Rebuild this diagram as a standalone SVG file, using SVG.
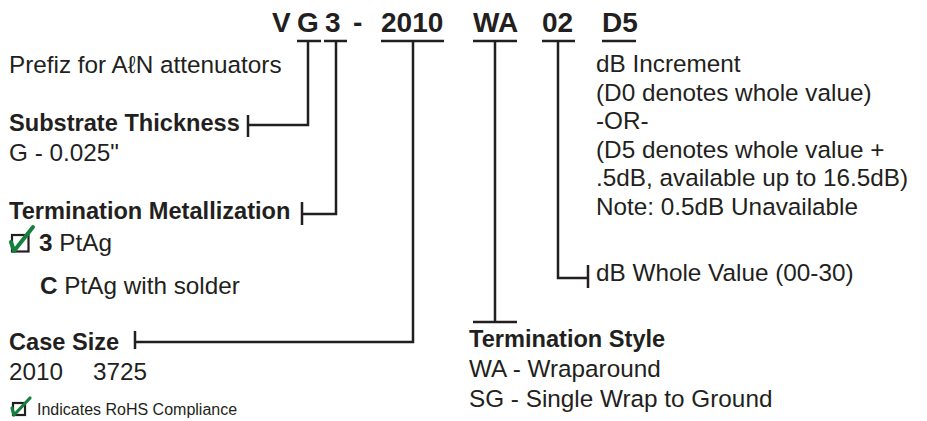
<svg xmlns="http://www.w3.org/2000/svg" width="927" height="421" viewBox="0 0 927 421">
  <style>
    text { font-family: "Liberation Sans", Arial, sans-serif; fill: #231f20; }
    .title { font-size: 28px; font-weight: bold; }
    .hd { font-size: 23.6px; font-weight: bold; }
    .tx { font-size: 24.3px; }
    .b { font-weight: bold; }
    .sm { font-size: 16px; }
    .ln { fill: none; stroke: #231f20; stroke-width: 2.5; }
    .box { fill: none; stroke: #231f20; stroke-width: 2.2; }
    .chk { fill: none; stroke: #15803d; stroke-linecap: round; stroke-linejoin: round; }
  </style>

  <g id="code">
    <text class="title" x="272" y="32">V</text>
    <text class="title" x="297" y="32">G</text>
    <text class="title" x="325" y="32">3</text>
    <text class="title" x="353" y="32">-</text>
    <text class="title" x="381" y="32">2010</text>
    <text class="title" x="473" y="32">WA</text>
    <text class="title" x="542" y="32">02</text>
    <text class="title" x="602" y="32">D5</text>
  </g>

  <g id="connectors">
    <path class="ln" d="M297,41 H321 M324,41 H347 M381,41 H444 M473,41 H517 M542,41 H575 M602,41 H636"/>
    <path class="ln" d="M308,41 V125 H248 M248,115 V137"/>
    <path class="ln" d="M336,41 V214 H302 M302,202 V225"/>
    <path class="ln" d="M413,41 V342 H135 M135,331 V349"/>
    <path class="ln" d="M558,41 V278 H588 M588,265 V288"/>
    <path class="ln" d="M495,41 V322 M473,322 H517"/>
  </g>

  <g id="prefix">
    <text class="tx" x="9" y="73">Prefiz for AℓN attenuators</text>
  </g>

  <g id="substrate">
    <text class="hd" x="9" y="131">Substrate Thickness</text>
    <text class="tx" x="9" y="161">G - 0.025"</text>
  </g>

  <g id="metallization">
    <text class="hd" x="9" y="219">Termination Metallization</text>
    <rect class="box" x="12" y="235" width="16.5" height="16.5"/>
    <path class="chk" stroke-width="4" d="M11,242 L14,251 L33,227"/>
    <text class="tx" x="39" y="251"><tspan class="b">3</tspan> PtAg</text>
    <text class="tx" x="40" y="294"><tspan class="b">C</tspan> PtAg with solder</text>
  </g>

  <g id="casesize">
    <text class="hd" x="9" y="350">Case Size</text>
    <text class="tx" x="9" y="380">2010</text>
    <text class="tx" x="93" y="380">3725</text>
  </g>

  <g id="rohs">
    <rect class="box" x="13" y="403" width="12" height="12" stroke-width="1.8"/>
    <path class="chk" stroke-width="3.2" d="M12,408 L14,415 L30,398"/>
    <text class="sm" x="37" y="415">Indicates RoHS Compliance</text>
  </g>

  <g id="increment">
    <text class="tx" x="596" y="72">dB Increment</text>
    <text class="tx" x="596" y="100.5">(D0 denotes whole value)</text>
    <text class="tx" x="596" y="129">-OR-</text>
    <text class="tx" x="596" y="157.5">(D5 denotes whole value +</text>
    <text class="tx" x="596" y="186">.5dB, available up to 16.5dB)</text>
    <text class="tx" x="596" y="214.5">Note: 0.5dB Unavailable</text>
  </g>

  <g id="wholevalue">
    <text class="tx" x="596" y="281">dB Whole Value (00-30)</text>
  </g>

  <g id="termstyle">
    <text class="hd" x="469" y="347">Termination Style</text>
    <text class="tx" x="469" y="377">WA - Wraparound</text>
    <text class="tx" x="469" y="407">SG - Single Wrap to Ground</text>
  </g>
</svg>
